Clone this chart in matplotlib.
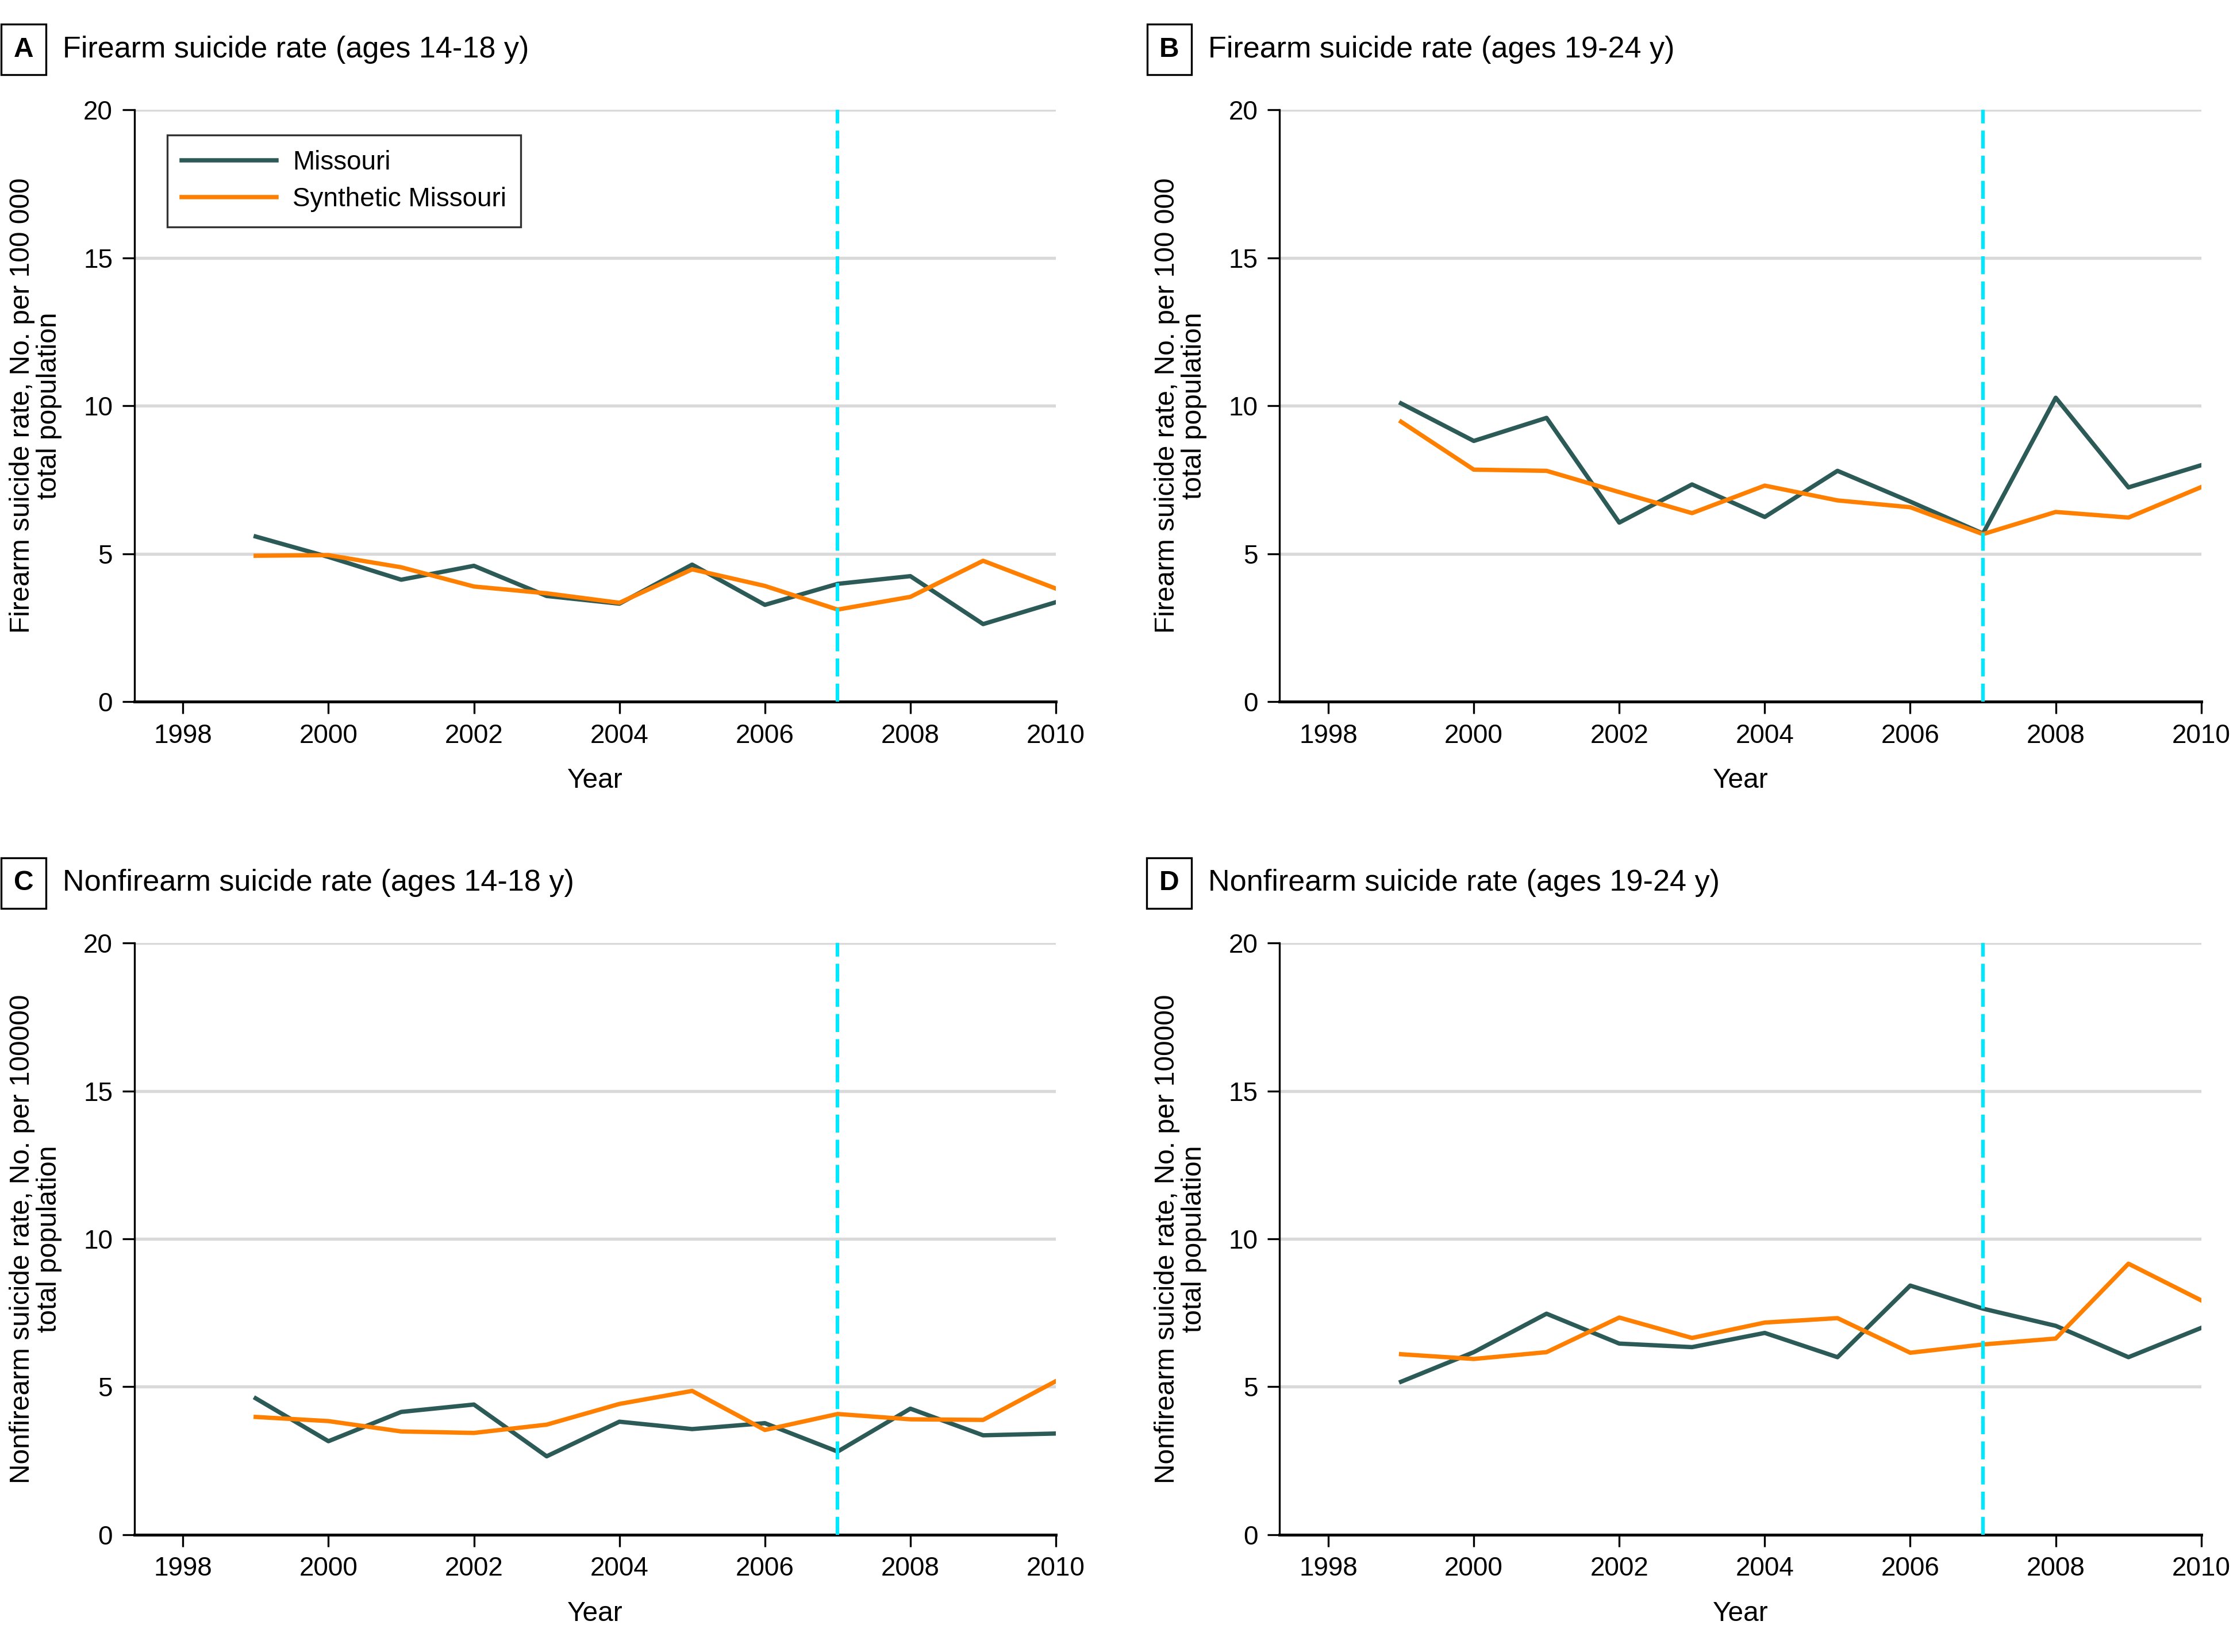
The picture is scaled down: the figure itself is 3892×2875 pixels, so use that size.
import matplotlib
matplotlib.use("Agg")
import matplotlib.pyplot as plt

plt.rcParams["font.family"] = ["Liberation Sans", "DejaVu Sans"]

# -------------------------
# Datos
# -------------------------
years = [1999, 2000, 2001, 2002, 2003, 2004, 2005, 2006, 2007, 2008, 2009, 2010]

mo_fire_14_18 = [5.58, 4.89, 4.12, 4.59, 3.57, 3.31, 4.63, 3.27, 3.98, 4.24, 2.62, 3.36]
syn_fire_14_18 = [4.93, 4.95, 4.54, 3.89, 3.66, 3.34, 4.47, 3.91, 3.11, 3.54, 4.76, 3.82]

mo_fire_19_24 = [10.08, 8.81, 9.59, 6.05, 7.34, 6.24, 7.80, 6.76, 5.68, 10.27, 7.24, 7.99]
syn_fire_19_24 = [9.46, 7.84, 7.80, 7.08, 6.37, 7.30, 6.80, 6.57, 5.66, 6.41, 6.22, 7.25]

mo_nonfire_14_18 = [4.61, 3.16, 4.15, 4.40, 2.65, 3.82, 3.57, 3.77, 2.81, 4.26, 3.36, 3.42]
syn_nonfire_14_18 = [3.98, 3.84, 3.49, 3.44, 3.72, 4.42, 4.86, 3.54, 4.08, 3.90, 3.88, 5.19]

mo_nonfire_19_24 = [5.17, 6.17, 7.47, 6.46, 6.34, 6.82, 6.00, 8.42, 7.64, 7.06, 6.00, 6.99]
syn_nonfire_19_24 = [6.10, 5.94, 6.17, 7.34, 6.65, 7.17, 7.32, 6.15, 6.43, 6.63, 9.16, 7.92]

letters = ["A", "B", "C", "D"]
titles = [
    "Firearm suicide rate (ages 14-18 y)",
    "Firearm suicide rate (ages 19-24 y)",
    "Nonfirearm suicide rate (ages 14-18 y)",
    "Nonfirearm suicide rate (ages 19-24 y)",
]
ylabels = [
    "Firearm suicide rate, No. per 100 000\ntotal population",
    "Firearm suicide rate, No. per 100 000\ntotal population",
    "Nonfirearm suicide rate, No. per 100000\ntotal population",
    "Nonfirearm suicide rate, No. per 100000\ntotal population",
]
x_ticks = [1998, 2000, 2002, 2004, 2006, 2008, 2010]
y_ticks = [0, 5, 10, 15, 20]
policy_year = 2007

series = [
    (mo_fire_14_18, syn_fire_14_18),
    (mo_fire_19_24, syn_fire_19_24),
    (mo_nonfire_14_18, syn_nonfire_14_18),
    (mo_nonfire_19_24, syn_nonfire_19_24),
]

MO_COLOR = "#2b5a57"
SYN_COLOR = "#ff8000"
CYAN = "#00e8ff"

# -------------------------
# Figura
# -------------------------
fig = plt.figure(figsize=(3892 / 300, 2875 / 300), dpi=300)

# posiciones de los paneles [left, bottom, width, height]
lefts = [0.060, 0.572, 0.060, 0.572]
bottoms = [0.5753, 0.5753, 0.0710, 0.0710]
width = 0.412
height = 0.3582

for i in range(4):
    ax = fig.add_axes([lefts[i], bottoms[i], width, height])
    mo, syn = series[i]

    for yv in y_ticks[1:]:
        ax.axhline(yv, color="#d9d9d9", lw=1.3, zorder=0)

    ax.plot(years, mo, color=MO_COLOR, lw=1.8, label="Missouri", zorder=3)
    ax.plot(years, syn, color=SYN_COLOR, lw=1.8, label="Synthetic Missouri", zorder=3)
    ax.axvline(policy_year, color=CYAN, lw=1.5, dashes=(5, 2), zorder=4)

    ax.set_xlim(1997.33, 2010)
    ax.set_ylim(0, 20)
    ax.set_xticks(x_ticks)
    ax.set_yticks(y_ticks)
    ax.tick_params(labelsize=11, length=5, width=0.8, pad=4)
    ax.spines["top"].set_visible(False)
    ax.spines["right"].set_visible(False)
    ax.spines["left"].set_linewidth(0.8)
    ax.spines["bottom"].set_linewidth(1.2)

    ax.set_xlabel("Year", fontsize=11.5, labelpad=8)
    ax.set_ylabel(ylabels[i], fontsize=11.5, labelpad=9, linespacing=1.05)

    if i == 0:
        leg = ax.legend(loc="upper left", bbox_to_anchor=(0.036, 0.957),
                        borderaxespad=0, fontsize=11, frameon=True, fancybox=False,
                        handlelength=3.6, handletextpad=0.6, borderpad=0.55,
                        labelspacing=0.45)
        leg.get_frame().set_edgecolor("black")
        leg.get_frame().set_linewidth(0.8)

    # letra del panel y título
    lx = 0.0105 if i % 2 == 0 else 0.5227
    tx = 0.0281 if i % 2 == 0 else 0.5400
    ty = 0.970 if i < 2 else 0.4655
    fig.text(lx, ty, letters[i], fontsize=11.5, fontweight="bold", ha="center", va="center",
             bbox=dict(boxstyle="square,pad=0.45", facecolor="white", edgecolor="black", lw=0.8))
    fig.text(tx, ty, titles[i], fontsize=12.5, ha="left", va="center")

fig.savefig("out.png", dpi=300)
